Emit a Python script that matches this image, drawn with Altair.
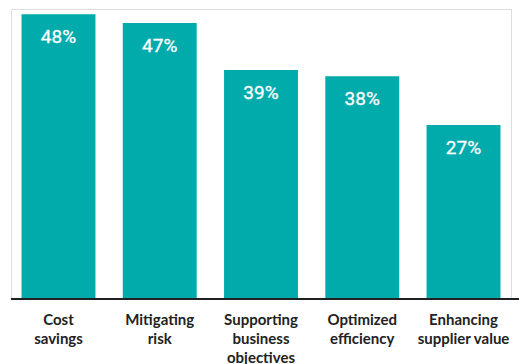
import altair as alt
import pandas as pd

categories = ["Cost\nsavings", "Mitigating\nrisk", "Supporting\nbusiness\nobjectives",
              "Optimized\nefficiency", "Enhancing\nsupplier value"]
# bar lengths as drawn in the picture (scale units), and the printed labels
bar_heights = [49.1, 47.6, 39.5, 38.4, 30.0]
labels = ["48%", "47%", "39%", "38%", "27%"]

df = pd.DataFrame({"category": categories, "value": bar_heights, "label": labels})

x = alt.X("category:N", sort=categories, title=None,
          scale=alt.Scale(paddingInner=0.27, paddingOuter=0.104),
          axis=alt.Axis(labelExpr="split(datum.label, '\\n')", labelAngle=0,
                        labelFont="Lato", labelFontWeight="bold", labelFontSize=15,
                        labelColor="#222222", labelLineHeight=19, labelPadding=13,
                        labelBaseline="top", ticks=False, domain=False))
y = alt.Y("value:Q", scale=alt.Scale(domain=[0, 50]), axis=None)

bars = alt.Chart(df).mark_bar(color="#02ABAB").encode(x=x, y=y)
text = alt.Chart(df).mark_text(baseline="middle", dy=23, font="Roboto", fontSize=19,
                               fontWeight="normal", color="white",
                               stroke="white", strokeWidth=0.3).encode(
    x=alt.X("category:N", sort=categories), y="value:Q", text="label:N")
axis_line = alt.Chart(df).mark_rule(color="#222222", strokeWidth=1.6).encode(
    x=alt.value(0), x2=alt.value(508), y=alt.value(290))

chart = alt.layer(bars, text, axis_line).properties(
    width=500, height=290,
    autosize=alt.AutoSizeParams(type="none"),
    padding={"left": 11, "top": 9, "right": 8, "bottom": 65},
).configure_view(stroke=None).configure(background="white")

chart.save("out.html", embed_options={"renderer": "svg", "actions": False})
